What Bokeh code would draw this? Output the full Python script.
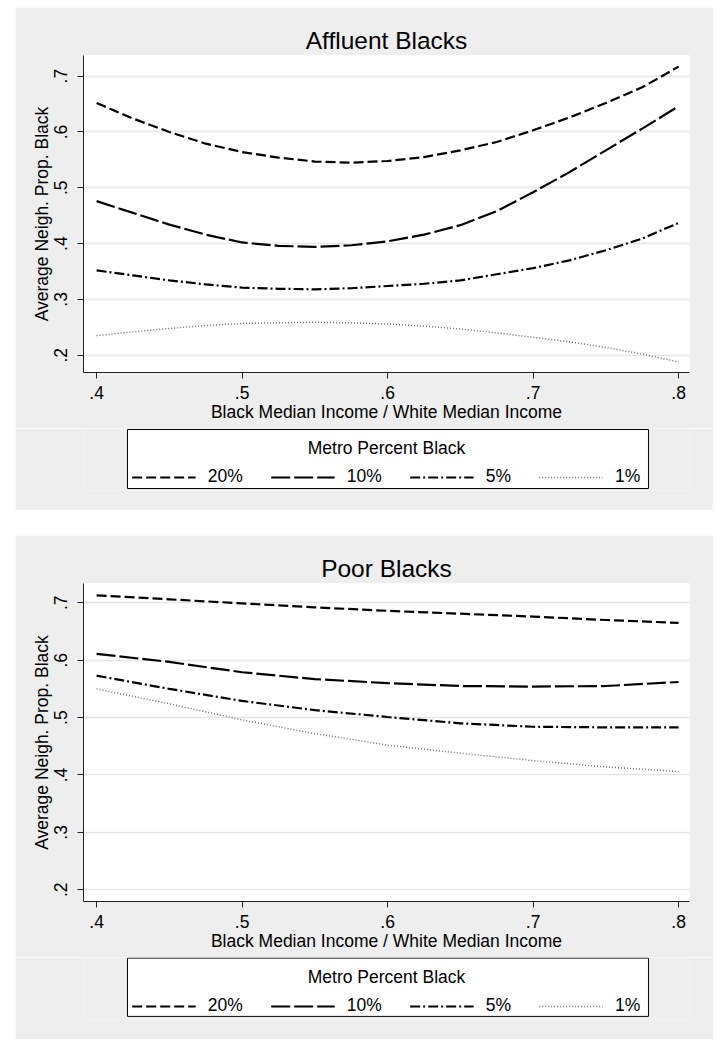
from bokeh.plotting import figure
from bokeh.models import (Range1d, FixedTicker, CustomJSTickFormatter, Legend, LegendItem,
                          Label, BoxAnnotation)
from bokeh.layouts import column
from bokeh.embed import file_html
from bokeh.resources import INLINE

# ---- data ----
series_labels = ["20%", "10%", "5%", "1%"]

income_ratio_affluent = [0.400, 0.425, 0.450, 0.475, 0.500, 0.525, 0.550, 0.575, 0.600,
                         0.625, 0.650, 0.675, 0.700, 0.725, 0.750, 0.775, 0.800]
affluent_20 = [0.652, 0.624, 0.600, 0.579, 0.564, 0.554, 0.547, 0.545, 0.548,
               0.555, 0.567, 0.582, 0.603, 0.626, 0.652, 0.680, 0.717]
affluent_10 = [0.476, 0.455, 0.434, 0.416, 0.402, 0.396, 0.394, 0.397, 0.404,
               0.416, 0.433, 0.458, 0.492, 0.528, 0.567, 0.606, 0.646]
affluent_5 = [0.352, 0.343, 0.334, 0.327, 0.321, 0.319, 0.318, 0.320, 0.324,
              0.328, 0.334, 0.345, 0.356, 0.370, 0.388, 0.409, 0.437]
affluent_1 = [0.235, 0.242, 0.248, 0.253, 0.257, 0.258, 0.259, 0.258, 0.256,
              0.252, 0.247, 0.240, 0.232, 0.224, 0.214, 0.202, 0.188]

income_ratio_poor = [0.40, 0.45, 0.50, 0.55, 0.60, 0.65, 0.70, 0.75, 0.80]
poor_20 = [0.713, 0.706, 0.699, 0.692, 0.686, 0.681, 0.676, 0.670, 0.665]
poor_10 = [0.611, 0.597, 0.579, 0.567, 0.560, 0.555, 0.554, 0.555, 0.562]
poor_5 = [0.573, 0.550, 0.529, 0.513, 0.501, 0.490, 0.484, 0.483, 0.483]
poor_1 = [0.550, 0.524, 0.496, 0.472, 0.452, 0.438, 0.425, 0.414, 0.406]

x_ticks = [0.4, 0.5, 0.6, 0.7, 0.8]
y_ticks = [0.2, 0.3, 0.4, 0.5, 0.6, 0.7]

legend_title = "Metro Percent Black"
x_label = "Black Median Income / White Median Income"
y_label = "Average Neigh. Prop. Black"

FONT = "Liberation Sans"
BG = "#EEEEEE"
STYLES = [
    dict(line_color="black", line_width=2.2, line_dash="10 4"),
    dict(line_color="black", line_width=2.2, line_dash="19 4"),
    dict(line_color="black", line_width=2.2, line_dash="10 3 2 3"),
    dict(line_color="#707070", line_width=1.5, line_dash="1 2"),
]

fmt = CustomJSTickFormatter(code="return tick.toFixed(1).replace(/^0/, '');")


def make_plot(title, xs, ys, y_lo, y_hi, height, frame_h):
    p = figure(width=698, height=height, title=title,
               x_range=Range1d(0.391, 0.8075), y_range=Range1d(y_lo, y_hi),
               output_backend="svg", toolbar_location=None,
               min_border_left=68, min_border_right=24,
               min_border_top=48, min_border_bottom=height - 48 - frame_h)
    p.border_fill_color = BG
    p.background_fill_color = "white"
    p.outline_line_color = None

    p.title.align = "center"
    p.title.text_font = FONT
    p.title.text_font_size = "24.5px"
    p.title.text_font_style = "normal"
    p.title.text_color = "black"
    p.title.standoff = 4

    for ax in (p.xaxis[0], p.yaxis[0]):
        ax.formatter = fmt
        ax.major_tick_out = 6
        ax.major_tick_in = 0
        ax.minor_tick_out = 0
        ax.minor_tick_in = 0
        ax.axis_line_color = "#222222"
        ax.major_tick_line_color = "#222222"
        ax.major_label_text_font = FONT
        ax.major_label_text_font_size = "17.5px"
        ax.major_label_text_color = "black"
        ax.axis_label_text_font = FONT
        ax.axis_label_text_font_size = "17.5px"
        ax.axis_label_text_font_style = "normal"
        ax.axis_label_text_color = "black"
        ax.axis_label_standoff = 0
        ax.major_label_standoff = 7
    p.yaxis[0].major_label_standoff = 10
    p.xaxis[0].ticker = FixedTicker(ticks=x_ticks)
    p.yaxis[0].ticker = FixedTicker(ticks=y_ticks)
    p.yaxis[0].major_label_orientation = "vertical"
    p.xaxis[0].axis_label = x_label
    p.yaxis[0].axis_label = y_label

    p.xgrid.visible = False
    p.ygrid.grid_line_color = "#E6E6E6"
    p.ygrid.grid_line_width = 1.5

    for y, st in zip(ys, STYLES):
        p.line(xs, y, **st)
    return p


def make_legend_box(box_bottom, box_top):
    lf = figure(width=698, height=82, x_range=Range1d(0, 1), y_range=Range1d(0, 1),
                output_backend="svg", toolbar_location=None,
                x_axis_location=None, y_axis_location=None,
                min_border_left=68, min_border_right=24,
                min_border_top=0, min_border_bottom=20)
    lf.border_fill_color = BG
    lf.background_fill_color = BG
    lf.outline_line_color = None
    for g in lf.grid:
        g.visible = False

    lf.add_layout(BoxAnnotation(left=0.0726, right=0.9323, bottom=box_bottom, top=box_top,
                                fill_color="white", fill_alpha=1.0,
                                line_color="black", line_alpha=1.0, line_width=1))

    items = []
    for lab, st in zip(series_labels, STYLES):
        # legend key only: a single NaN point so that nothing is drawn in the box
        r = lf.line(x=[float("nan")], y=[float("nan")], **st)
        items.append(LegendItem(label=lab, renderers=[r]))
    leg = Legend(items=items, orientation="horizontal", location="bottom_center",
                 border_line_color=None, background_fill_alpha=0,
                 glyph_width=64, glyph_height=20, label_standoff=12,
                 spacing=28, padding=0, margin=3,
                 label_text_font=FONT, label_text_font_size="17.5px",
                 label_text_color="black")
    lf.add_layout(leg, "center")
    lf.add_layout(Label(x=0.5, y=0.685, text=legend_title, text_align="center",
                        text_baseline="middle", text_font=FONT,
                        text_font_size="17.5px", text_color="black"))
    return lf


p1 = make_plot("Affluent Blacks", income_ratio_affluent,
               [affluent_20, affluent_10, affluent_5, affluent_1],
               0.169, 0.737, 421, 317)
l1 = make_legend_box(0.032, 0.984)
p2 = make_plot("Poor Blacks", income_ratio_poor,
               [poor_20, poor_10, poor_5, poor_1],
               0.1796, 0.7336, 422, 318)
l2 = make_legend_box(0.05, 0.99)

layout = column(column(p1, l1, spacing=0), column(p2, l2, spacing=0),
                spacing=25, margin=(7, 0, 0, 15))

open("out.html", "w").write(file_html(layout, INLINE))
